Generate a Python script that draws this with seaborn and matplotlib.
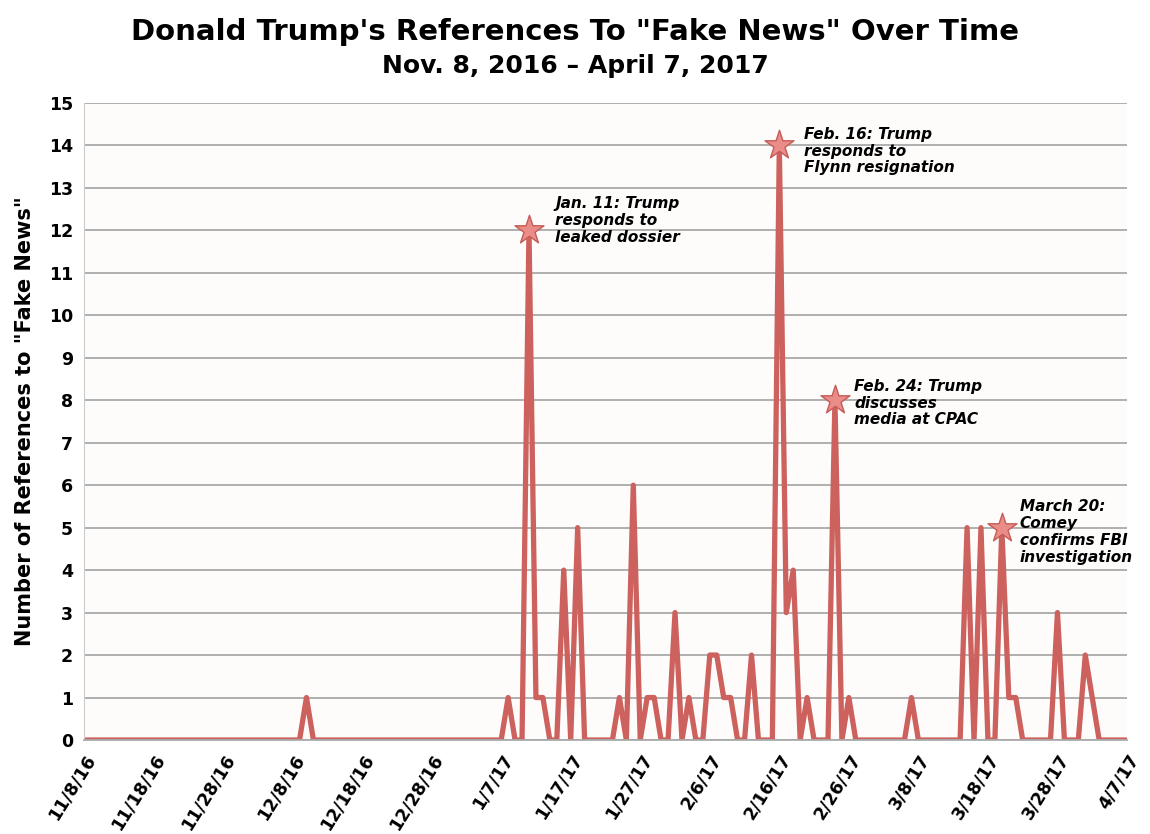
import matplotlib
matplotlib.use("Agg")
import matplotlib.pyplot as plt
import seaborn as sns
import pandas as pd
import numpy as np

# daily counts, Nov 8 2016 - Apr 7 2017
nov = [0] * 23
dec = [0] * 9 + [1] + [0] * 21
jan = [0, 0, 0, 0, 0, 0, 0, 1, 0, 0, 12, 1, 1, 0, 0, 4, 0, 5, 0, 0,
       0, 0, 0, 1, 0, 6, 0, 1, 1, 0, 0]
feb = [3, 0, 1, 0, 0, 2, 2, 1, 1, 0, 0, 2, 0, 0, 0, 14, 3, 4, 0, 1,
       0, 0, 0, 8, 0, 1, 0, 0]
mar = [0, 0, 0, 0, 0, 0, 1, 0, 0, 0, 0, 0, 0, 0, 5, 0, 5, 0, 0, 5,
       1, 1, 0, 0, 0, 0, 0, 3, 0, 0, 0]
apr = [2, 1, 0, 0, 0, 0, 0]

counts = nov + dec + jan + feb + mar + apr
dates = pd.date_range("2016-11-08", "2017-04-07", freq="D")

tick_labels = ["11/8/16", "11/18/16", "11/28/16", "12/8/16", "12/18/16", "12/28/16",
               "1/7/17", "1/17/17", "1/27/17", "2/6/17", "2/16/17", "2/26/17",
               "3/8/17", "3/18/17", "3/28/17", "4/7/17"]

event_dates = ["2017-01-11", "2017-02-16", "2017-02-24", "2017-03-20"]
event_texts = ["Jan. 11: Trump\nresponds to\nleaked dossier",
               "Feb. 16: Trump\nresponds to\nFlynn resignation",
               "Feb. 24: Trump\ndiscusses\nmedia at CPAC",
               "March 20:\nComey\nconfirms FBI\ninvestigation"]

df = pd.DataFrame({"date": dates, "count": counts})

sns.set_style("white")
plt.rcParams["font.family"] = ["DejaVu Sans"]
plt.rcParams["text.color"] = "black"
plt.rcParams["axes.labelcolor"] = "black"
plt.rcParams["xtick.color"] = "black"
plt.rcParams["ytick.color"] = "black"

fig = plt.figure(figsize=(11.5, 8.34), dpi=100)
ax = fig.add_axes([0.073, 0.1127, 0.907, 0.7638])
ax.set_facecolor("#fdfcfb")

line_col = "#cd615d"
sns.lineplot(data=df, x="date", y="count", ax=ax, color=line_col, linewidth=3.8)

ev = df[df["date"].isin(pd.to_datetime(event_dates))]
ax.scatter(ev["date"], ev["count"], marker="*", s=480, facecolor="#ea8d88",
           edgecolor="#c65b57", linewidth=1, zorder=5)

offsets = [(19, 7), (18, -4), (14, -2), (13, -3)]
for (d, v), txt, (dx, dy) in zip(zip(ev["date"], ev["count"]), event_texts, offsets):
    ax.annotate(txt, (d, v), xytext=(dx, dy), textcoords="offset points",
                fontsize=11, fontweight="bold", fontstyle="italic",
                va="center", ha="left", linespacing=1.15)

ax.set_ylim(0, 15)
ax.set_yticks(range(16))
ax.set_xlim(dates[0], dates[-1])
ax.set_xticks(dates[::10])
ax.set_xticklabels(tick_labels, rotation=58, ha="right", rotation_mode="anchor",
                   fontsize=12.5, fontweight="bold")
for t in ax.get_yticklabels():
    t.set_fontweight("bold")
    t.set_fontsize(12.5)
ax.tick_params(axis="both", length=0, pad=8)
ax.yaxis.grid(True, color="#aaaaaa", linewidth=1.3)
ax.xaxis.grid(False)
for s in ["top", "right"]:
    ax.spines[s].set_visible(False)
ax.spines["left"].set_color("#cccccc")
ax.spines["bottom"].set_color("#aaaaaa")
ax.spines["bottom"].set_linewidth(1.3)
ax.set_axisbelow(True)

ax.set_xlabel("")
ax.set_ylabel('Number of References to "Fake News"', fontsize=15,
              fontweight="bold", labelpad=10)

fig.text(0.5, 0.962, 'Donald Trump\'s References To "Fake News" Over Time',
         ha="center", va="center", fontsize=21, fontweight="bold")
fig.text(0.5, 0.921, "Nov. 8, 2016 \u2013 April 7, 2017",
         ha="center", va="center", fontsize=18, fontweight="bold")

fig.savefig("out.png", dpi=100, facecolor="white")
